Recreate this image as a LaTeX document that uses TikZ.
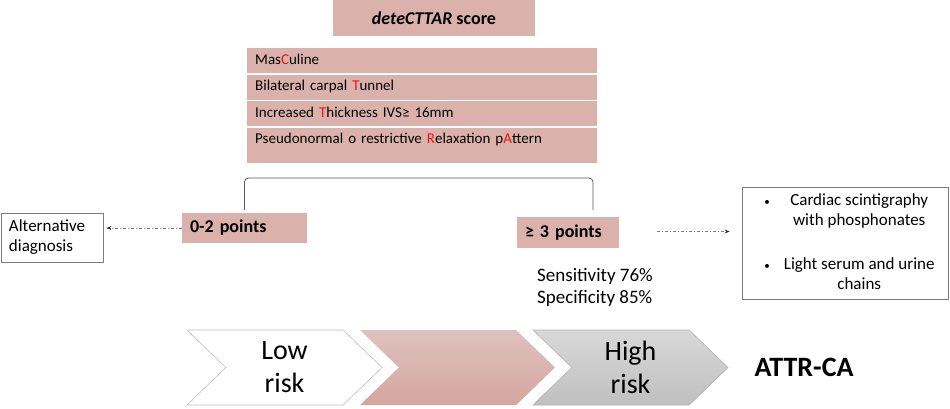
\documentclass[tikz,border=0pt]{standalone}
\usepackage{fontspec}
\setmainfont{Carlito}
\usepackage{tikz}
\usetikzlibrary{positioning}
\usetikzlibrary{arrows.meta}
\usetikzlibrary{shapes.symbols}
\definecolor{rosefill}{RGB}{218,178,171}
\definecolor{rosetop}{RGB}{223,194,189}
\definecolor{rosebottom}{RGB}{212,166,159}
\definecolor{greytop}{RGB}{216,216,216}
\definecolor{greybottom}{RGB}{192,192,192}
\definecolor{edgegrey}{RGB}{125,125,125}
\definecolor{hilite}{RGB}{240,20,20}
\newcommand{\smalldot}{{\fontsize{11}{11}\selectfont\textbullet}}

\begin{document}
\begin{tikzpicture}[x=1pt, y=-1pt,
							titlebox/.style={rectangle, fill=rosefill, minimum width=202pt, minimum height=36pt, inner sep=0pt, font=\fontsize{18}{21}\selectfont\bfseries},
							scorerow/.style={rectangle, fill=rosefill, anchor=north west, inner xsep=8pt, inner ysep=5pt, text width=334pt, align=left, text height=11pt, text depth=4pt, font=\fontsize{15}{18}\selectfont},
							pointbox/.style={rectangle, fill=rosefill, inner xsep=8pt, inner ysep=0pt, align=left, font=\fontsize{18}{21}\selectfont\bfseries},
							outbox/.style={rectangle, draw=edgegrey, line width=0.8pt, inner sep=0pt, font=\fontsize{17}{20}\selectfont},
							chevron/.style={signal, signal from=west, signal to=east, signal pointer angle=88, minimum width=195pt, minimum height=75pt, inner sep=0pt, align=center, font=\fontsize{28}{33}\selectfont},
							dasharrow/.style={draw=gray, line width=0.7pt, dash pattern=on 3pt off 2pt on 1pt off 2pt, -{Stealth[length=5pt, width=4pt, black!80]}},
							bracket/.style={draw=black!65, line width=0.8pt, rounded corners=4pt},
							]
							\useasboundingbox (0,0) rectangle (950,408);
							%Score
							\node[titlebox]     (title) 	at	(434,18) 	{\itshape deteCTTAR\upshape{} score};
							\node[scorerow]     (r1) 	at 	(247,48)    {Mas\textcolor{hilite}{C}uline};
							\node[scorerow]     (r2) 	at 	(247,74.5)  {Bilateral carpal \textcolor{hilite}{T}unnel};
							\node[scorerow]     (r3) 	at 	(247,101)   {Increased \textcolor{hilite}{T}hickness IVS≥ 16mm};
							\node[scorerow, text depth=14.5pt] (r4) at (247,127.5) {Pseudonormal o restrictive \textcolor{hilite}{R}elaxation p\textcolor{hilite}{A}ttern};
							%Points
							\node[pointbox, text width=109pt, minimum height=30pt] (lo) at (244.5,228) {0-2 points};
							\node[pointbox, text width=86pt, minimum height=31pt]  (hi) at (568,232.5) {≥ 3 points};
							\node[outbox, minimum width=102pt, minimum height=49pt, inner xsep=8pt, align=left, text width=86pt] (alt) at (52,237.5) {Alternative\\diagnosis};
							\node[outbox, minimum width=206pt, minimum height=112pt] (tests) at (845,243) {\hspace*{9pt}\begin{tabular}{@{}c@{\hspace{14pt}}c@{}}
								\smalldot & Cardiac scintigraphy\\
								& with phosphonates\\[24pt]
								\smalldot & Light serum and urine\\
								& chains
							\end{tabular}};
							\node[inner sep=0pt, anchor=west, align=left, font=\fontsize{19}{22}\selectfont] (acc) at (537,287) {Sensitivity 76\%\\Specificity 85\%};
							%Risk
							\node[chevron, draw=black!25, line width=0.6pt, fill=white] (c1) at (284.5,367.5) {Low\\risk};
							\node[chevron, top color=rosetop, bottom color=rosebottom] (c2) at (457.5,367.5) {};
							\node[chevron, draw=black!30, line width=0.6pt, top color=greytop, bottom color=greybottom] (c3) at (630.5,367.5) {High\\risk};
							\node[inner sep=0pt, right=26pt of c3, font=\fontsize{28}{33}\selectfont\bfseries] (attr) {ATTR-CA};
							%Lines
							\draw[bracket] ([yshift=3pt]lo.north) |- (593,178) -- ([xshift=25pt,yshift=7pt]hi.north);
							\draw[dasharrow, shorten >=3pt] (lo.west) -- (lo.west -| alt.east);
							\draw[dasharrow, shorten <=38pt, shorten >=12pt] ([yshift=1pt]hi.east) -- ([yshift=1pt]hi.east -| tests.west);
						\end{tikzpicture}
\end{document}
